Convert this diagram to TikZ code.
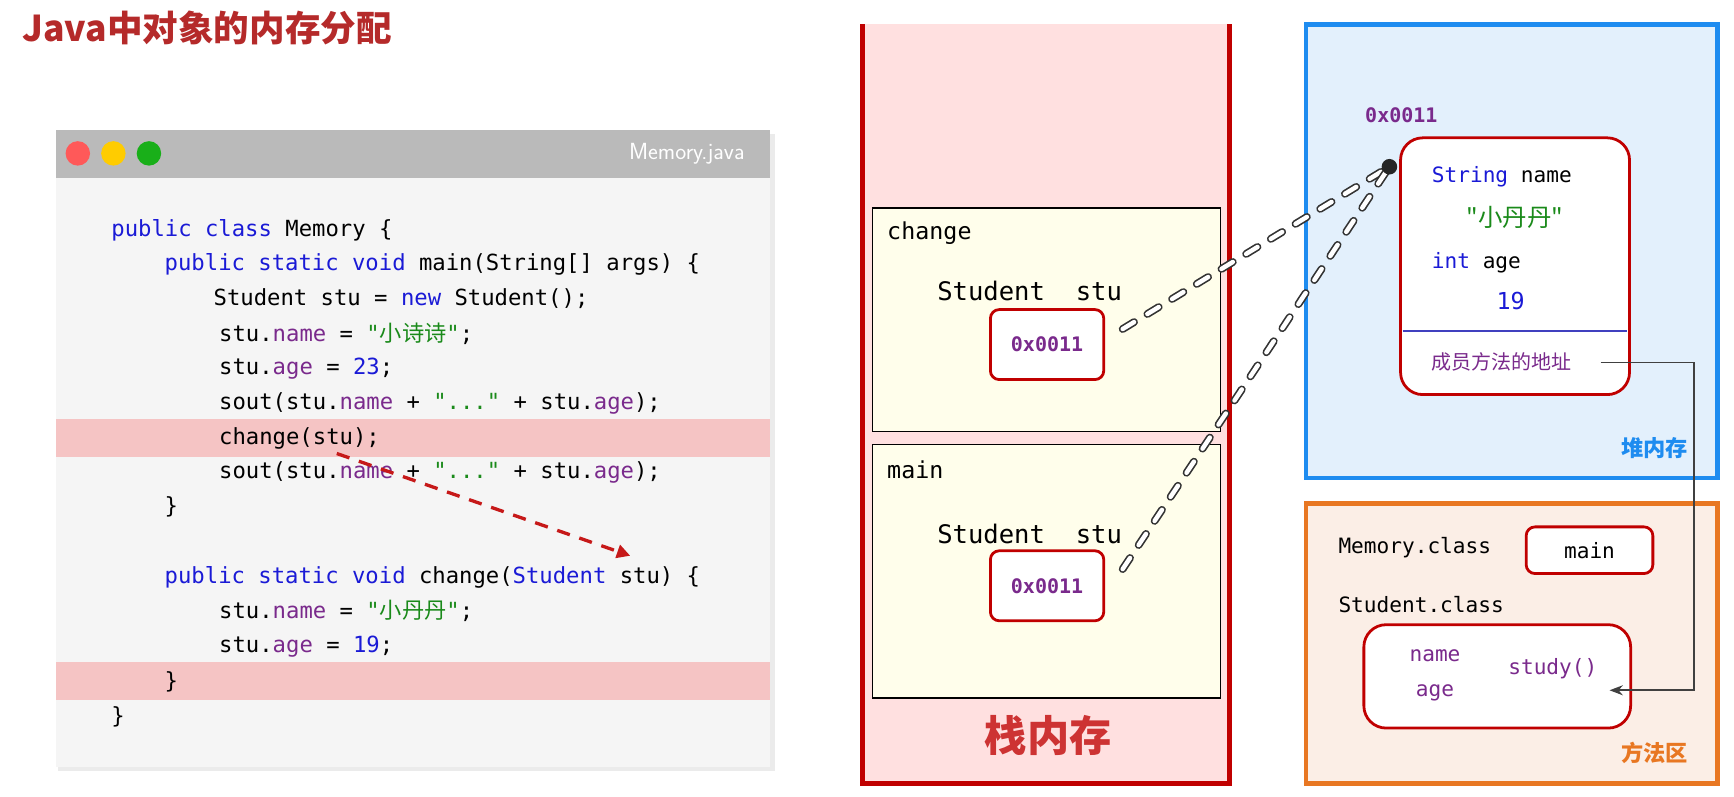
\documentclass[tikz,border=0pt]{standalone}
\usepackage{fontspec}
\setmonofont{DejaVu Sans Mono}
\newfontfamily\cjk{Noto Sans CJK SC}
\usetikzlibrary{arrows.meta}
\definecolor{kw}{HTML}{1A1AD6}
\definecolor{fld}{HTML}{7A2A8C}
\definecolor{str}{HTML}{1A8A1A}
\definecolor{darkred}{HTML}{B52A2A}
\definecolor{boxred}{HTML}{C00000}
\definecolor{hl}{HTML}{F5C4C4}
\definecolor{heapb}{HTML}{1E8CF0}
\definecolor{heapf}{HTML}{E3F0FC}
\definecolor{meth}{HTML}{E87722}
\definecolor{methf}{HTML}{FBEEE6}
\newcommand{\K}[1]{\textcolor{kw}{#1}}
\newcommand{\F}[1]{\textcolor{fld}{#1}}
\newcommand{\Sg}[1]{\textcolor{str}{#1}}
\begin{document}
\begin{tikzpicture}[x=1pt,y=-1pt,
  code/.style={anchor=west,font=\fontsize{20}{20}\ttfamily,inner sep=0},
  rtext/.style={anchor=west,font=\fontsize{21}{21}\ttfamily,inner sep=0},
  frame/.style={draw=black,line width=1.2pt,fill=yellow!8},
  addr/.style={draw=boxred,line width=2.5pt,rounded corners=8pt,fill=white},
  bigaddr/.style={draw=boxred,line width=2.5pt,rounded corners=20pt,fill=white},
  addrtxt/.style={font=\fontsize{18}{18}\ttfamily\bfseries,text=fld},
  linkout/.style={draw=black!80,line width=7pt,line cap=round,dash pattern=on 12pt off 14pt},
  linkin/.style={draw=white,line width=4pt,line cap=round,dash pattern=on 12pt off 14pt},
  big/.style={font=\fontsize{38}{38}\cjk\bfseries}]
\useasboundingbox (0,0) rectangle (1560,717);
\fill[white] (0,0) rectangle (1560,717);
% title
\node[anchor=west,text=darkred,font=\fontsize{32}{32}\cjk\bfseries,inner sep=0] (title) at (20,25) {Java中对象的内存分配};
% window
\fill[black!8] (52,121) rectangle (697,694);
\fill[black!4] (50,117) rectangle (693,690);
\fill[black!27] (50,117) rectangle (693,160);
\fill[hl] (50,377) rectangle (693,411);
\fill[hl] (50,596) rectangle (693,630);
\fill[red!65] (70,138) circle (11);
\fill[orange!40!yellow] (102,138) circle (11);
\fill[green!65!black!90] (134,138) circle (11);
\node[anchor=east,text=white,font=\fontsize{21}{21}\sffamily,inner sep=0] (fname) at (670,138) {Memory.java};
\node[code] (c1) at (100,207) {\K{public} \K{class} Memory \{};
\node[code] (c2) at (148,238) {\K{public} \K{static} \K{void} main(String[] args) \{};
\node[code] (c3) at (192,269) {Student stu = \K{new} Student();};
\node[code] (c4) at (197,300) {stu.\F{name} = \Sg{"{\cjk 小诗诗}"};};
\node[code] (c5) at (197,332) {stu.\F{age} = \K{23};};
\node[code] (c6) at (197,363) {sout(stu.\F{name} + \Sg{"..."} + stu.\F{age});};
\node[code] (c7) at (197,394) {change(stu);};
\node[code] (c8) at (197,425) {sout(stu.\F{name} + \Sg{"..."} + stu.\F{age});};
\node[code] (c9) at (148,456) {\}};
\node[code] (c10) at (148,519) {\K{public} \K{static} \K{void} change(\K{Student} stu) \{};
\node[code] (c11) at (197,550) {stu.\F{name} = \Sg{"{\cjk 小丹丹}"};};
\node[code] (c12) at (197,582) {stu.\F{age} = \K{19};};
\node[code] (c13) at (148,613) {\}};
\node[code] (c14) at (100,645) {\}};
\coordinate (a1) at (303,408);
\coordinate (a2) at (567,500);
\draw[boxred!90,line width=3pt,dash pattern=on 12pt off 9pt,-{Triangle[length=12pt,width=12pt]}] (a1) -- (a2);
% stack
\fill[red!12] (776,22) rectangle (1106,705);
\draw[boxred,line width=4pt] (776,22) -- (776,705) -- (1106,705) -- (1106,22);
\node[big,text=boxred!80] (stk) at (943,662) {栈内存};
\draw[frame] (785,187) rectangle (1098,388);
\draw[frame] (785,400) rectangle (1098,628);
\node[rtext] (chg) at (798,210) {change};
\node[rtext,font=\fontsize{23}{23}\ttfamily] (s1) at (843,262) {Student\ \ stu};
\node[rtext] (mn) at (798,423) {main};
\node[rtext,font=\fontsize{23}{23}\ttfamily] (s2) at (843,480) {Student\ \ stu};
\node[addr,minimum width=102pt,minimum height=63pt,addrtxt] (b1) at (942,310) {0x0011};
\node[addr,minimum width=102pt,minimum height=63pt,addrtxt] (b2) at (942,527) {0x0011};
% heap
\draw[draw=heapb,line width=4pt,fill=heapf] (1175,22) rectangle (1545,430);
\node[font=\fontsize{20}{20}\cjk\bfseries,text=heapb,anchor=east] (hp) at (1522,403) {堆内存};
\node[anchor=west,addrtxt,inner sep=0] (oaddr) at (1228,104) {0x0011};
\draw[bigaddr] (1260,124) rectangle (1466,355);
\draw[blue!50!gray,line width=1.5pt] (1262,298) -- (1464,298);
\node[rtext,font=\fontsize{19}{19}\ttfamily] (o1) at (1288,159) {\K{String} name};
\node[font=\fontsize{22}{22}\cjk,text=str] (o2) at (1363,196) {"小丹丹"};
\node[rtext,font=\fontsize{19}{19}\ttfamily] (o3) at (1288,236) {\K{int} age};
\node[font=\fontsize{21}{21}\ttfamily,text=kw] (o4) at (1359,271) {19};
\node[anchor=west,font=\fontsize{18}{18}\cjk,text=fld,inner sep=0] (o5) at (1288,326) {成员方法的地址};
\coordinate (dot) at (1250,150);
\coordinate (l1) at (1010,296);
\coordinate (l2) at (1010,512);
\draw[linkout] (l1) -- (dot);
\draw[linkin] (l1) -- (dot);
\draw[linkout] (l2) -- (dot);
\draw[linkin] (l2) -- (dot);
\fill[black!85] (dot) circle (7);
% method area
\draw[draw=meth,line width=4pt,fill=methf] (1175,453) rectangle (1545,705);
\node[font=\fontsize{20}{20}\cjk\bfseries,text=meth,anchor=east] (ma) at (1522,677) {方法区};
\node[rtext,font=\fontsize{19}{19}\ttfamily] (mc) at (1204,493) {Memory.class};
\node[addr,minimum width=114pt,minimum height=42pt,font=\fontsize{19}{19}\ttfamily] (mb) at (1430,495) {main};
\node[rtext,font=\fontsize{19}{19}\ttfamily] (sc) at (1204,544) {Student.class};
\draw[bigaddr] (1227,562) rectangle (1467,655);
\node[font=\fontsize{19}{19}\ttfamily,text=fld] (m1) at (1291,590) {name};
\node[font=\fontsize{19}{19}\ttfamily,text=fld] (m2) at (1291,623) {age};
\node[font=\fontsize{19}{19}\ttfamily,text=fld] (m3) at (1397,602) {study()};
\coordinate (r1) at (1440,326);
\coordinate (r2) at (1448,621);
\draw[black!75,line width=1.5pt,-{Stealth[length=12pt,width=9pt]}] (r1) -- (1524,326) -- (1524,621) -- (r2);
\end{tikzpicture}
\end{document}
